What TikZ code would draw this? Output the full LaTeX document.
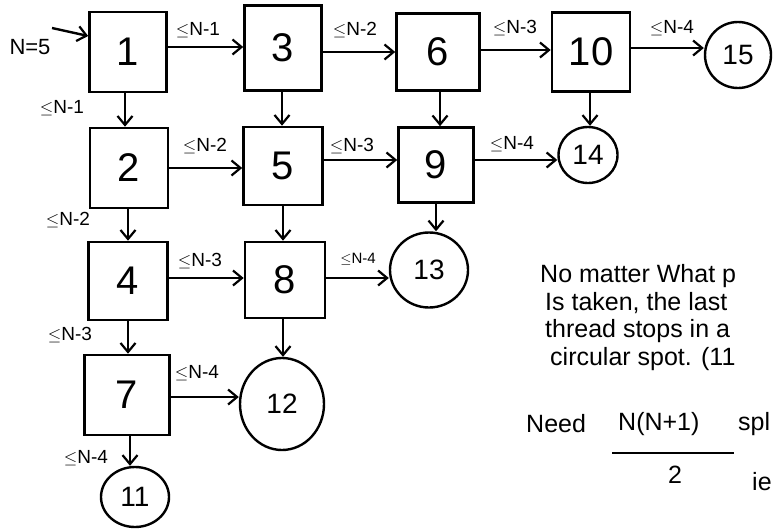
\documentclass[tikz,border=0pt]{standalone}
\usepackage{fontspec}
\setmainfont{Liberation Sans}
\usetikzlibrary{arrows.meta,shapes.geometric}
\tikzset{
  box/.style={draw,line width=2.6pt,minimum width=78pt,minimum height=78pt,inner sep=0pt,font=\fontsize{40}{44}\selectfont},
  spot/.style={draw,ellipse,line width=2.4pt,inner sep=0pt,font=\fontsize{28}{32}\selectfont},
  arr/.style={line width=2.4pt,-{Straight Barb[length=9pt,width=15pt,line width=2.2pt]}},
  lab/.style={font=\fontsize{19}{22}\selectfont,inner sep=1pt},
  note/.style={font=\fontsize{25}{28}\selectfont,anchor=west,inner sep=0pt}
}
\begin{document}
\begin{tikzpicture}[x=1pt,y=-1pt]
\useasboundingbox (0,0) rectangle (778,530);
% boxes
\node[box,minimum width=77pt,minimum height=80pt] (b1) at (128,52) {1};
\node[box,minimum width=77pt,minimum height=85pt] (b3) at (283,48) {3};
\node[box,minimum width=83pt,minimum height=77pt] (b6) at (438,52) {6};
\node[box,minimum width=78pt,minimum height=79pt] (b10) at (591,52) {10};
\node[spot,minimum width=66pt,minimum height=66pt] (c15) at (738,55) {15};
\node[box,minimum width=78pt,minimum height=80pt] (b2) at (129,168) {2};
\node[box,minimum width=79pt,minimum height=78pt] (b5) at (283,166) {5};
\node[box,minimum width=75pt,minimum height=75pt] (b9) at (436,165) {9};
\node[spot,minimum width=59pt,minimum height=56pt] (c14) at (588,155) {14};
\node[box,minimum width=79pt,minimum height=78pt] (b4) at (128,281) {4};
\node[box,minimum width=80pt,minimum height=76pt] (b8) at (285,280) {8};
\node[spot,minimum width=78pt,minimum height=75pt] (c13) at (429,270) {13};
\node[box,minimum width=85pt,minimum height=80pt] (b7) at (127,395) {7};
\node[spot,minimum width=84pt,minimum height=92pt] (c12) at (282,404) {12};
\node[spot,minimum width=68pt,minimum height=60pt] (c11) at (135,497) {11};
% entry
\node[lab,font=\fontsize{22}{26}\selectfont] (n5) at (30,47) {N=5};
\coordinate (in) at (52,28);
\draw[arr] (in) -- (b1.west |- 0,36);
% horizontal arrows
\draw[arr] (b1.east |- 0,47) -- (b3.west |- 0,47);
\draw[arr] (b3.east |- 0,52) -- (b6.west |- 0,52);
\draw[arr] (b6.east |- 0,50) -- (b10.west |- 0,50);
\draw[arr] (b10.east |- 0,48) -- (c15.west |- 0,48);
\draw[arr] (b2.east |- 0,168) -- (b5.west |- 0,168);
\draw[arr] (b5.east |- 0,160) -- (b9.west |- 0,160);
\draw[arr] (b9.east |- 0,160) -- (c14.west |- 0,160);
\draw[arr] (b4.east |- 0,278) -- (b8.west |- 0,278);
\draw[arr] (b8.east |- 0,278) -- (c13.west |- 0,278);
\draw[arr] (b7.east |- 0,397) -- (c12.west |- 0,397);
% vertical arrows
\draw[arr] (b1.south -| 125,0) -- (b2.north -| 125,0);
\draw[arr] (b3.south -| 282,0) -- (b5.north -| 282,0);
\draw[arr] (b6.south -| 440,0) -- (b9.north -| 440,0);
\draw[arr] (b10.south -| 590,0) -- (c14.north -| 590,0);
\draw[arr] (b2.south -| 128,0) -- (b4.north -| 128,0);
\draw[arr] (b5.south -| 283,0) -- (b8.north -| 283,0);
\draw[arr] (b9.south -| 436,0) -- (c13.north -| 436,0);
\draw[arr] (b4.south -| 128,0) -- (b7.north -| 128,0);
\draw[arr] (b8.south -| 283,0) -- (c12.north -| 283,0);
\draw[arr] (b7.south -| 130,0) -- (c11.north -| 130,0);
% labels
\node[lab] (l13) at (198,30) {$\leq$N-1};
\node[lab] (l36) at (355,30) {$\leq$N-2};
\node[lab] (l610) at (515,28) {$\leq$N-3};
\node[lab] (l1015) at (672,28) {$\leq$N-4};
\node[lab] (l12) at (62,108) {$\leq$N-1};
\node[lab] (l25) at (205,146) {$\leq$N-2};
\node[lab] (l59) at (352,146) {$\leq$N-3};
\node[lab] (l914) at (512,144) {$\leq$N-4};
\node[lab] (l24) at (68,220) {$\leq$N-2};
\node[lab] (l48) at (200,261) {$\leq$N-3};
\node[lab,font=\fontsize{15}{18}\selectfont] (l813) at (358,259) {$\leq$N-4};
\node[lab] (l47) at (70,335) {$\leq$N-3};
\node[lab] (l712) at (197,373) {$\leq$N-4};
\node[lab] (l711) at (86,458) {$\leq$N-4};
% note
\node[note] (t1) at (540,276) {No matter What p};
\node[note] (t2) at (545,303) {Is taken, the last};
\node[note] (t3) at (545,331) {thread stops in a};
\node[note] (t4) at (550,359) {circular spot. (11};
\node[note] (t5) at (526,424) {Need};
\node[note] (t6) at (618,424) {N(N+1)};
\node[note] (t7) at (738,424) {spl};
\draw[line width=2.2pt] (612,453) -- (734,453);
\node[note] (t8) at (668,475) {2};
\node[note] (t9) at (752,482) {ie};
\end{tikzpicture}
\end{document}
